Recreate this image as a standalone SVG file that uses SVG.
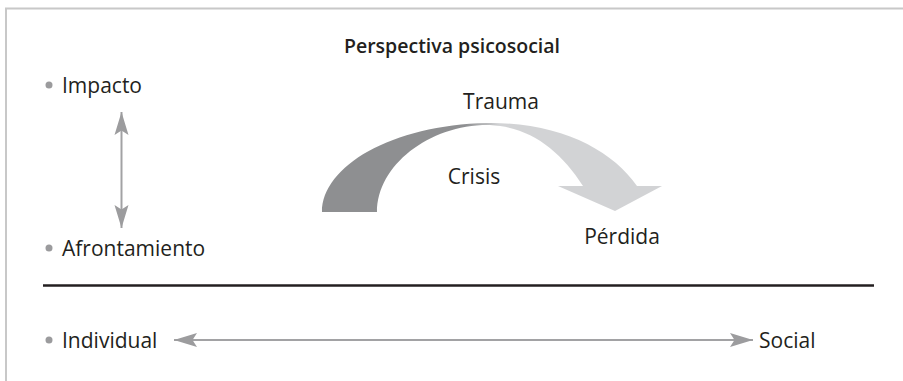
<svg xmlns="http://www.w3.org/2000/svg" width="903" height="381" viewBox="0 0 903 381">
<style>
.t{font-family:"Open Sans","Liberation Sans",sans-serif;font-size:21px;fill:#231f20}
.title{font-weight:600;font-size:19.5px}
.b{fill:#9b9b9d}
.ar{stroke:#a2a2a4;stroke-width:2;fill:none}
</style>
<defs>
<marker id="ah" viewBox="-24 -8 26 16" refX="0" refY="0" markerWidth="26" markerHeight="16" markerUnits="userSpaceOnUse" orient="auto-start-reverse">
<path d="M0,0 L-23,-7 L-18.5,0 L-23,7 Z" fill="#9c9c9e"/>
</marker>
<linearGradient id="g" gradientUnits="userSpaceOnUse" x1="465" y1="0" x2="500" y2="0">
<stop offset="0" stop-color="#8e8f91"/>
<stop offset="1" stop-color="#d2d3d5"/>
</linearGradient>
</defs>
<g id="frame">
<line x1="5" y1="8.5" x2="903" y2="8.5" stroke="#c8c8c8" stroke-width="2"/>
<line x1="6" y1="8" x2="6" y2="381" stroke="#c8c8c8" stroke-width="2"/>
<line x1="43" y1="285.5" x2="874" y2="285.5" stroke="#231f20" stroke-width="2.5"/>
</g>
<text id="title" class="t title" x="452" y="53" text-anchor="middle">Perspectiva psicosocial</text>
<g id="impacto"><circle class="b" cx="49" cy="85" r="3.5"/><text class="t" x="62" y="93">Impacto</text></g>
<g id="afrontamiento"><circle class="b" cx="49" cy="248" r="3.5"/><text class="t" x="62" y="256">Afrontamiento</text></g>
<g id="individual"><circle class="b" cx="49" cy="340" r="3.5"/><text class="t" x="62" y="348">Individual</text></g>
<g id="social"><text class="t" x="759" y="348">Social</text></g>
<g id="arc">
<path d="M322,212 C322,166 392,125 487,123 C560,122 612,150 637,186 L662,186 L615,211 L558,186 L583,186 C560,150 530,127 490,125 C430,124 377,165 377,212 Z" fill="url(#g)"/>
</g>
<g id="trauma"><text class="t" x="501" y="109" text-anchor="middle">Trauma</text></g>
<g id="crisis"><text class="t" x="474" y="184" text-anchor="middle">Crisis</text></g>
<g id="perdida"><text class="t" x="622" y="244" text-anchor="middle">Pérdida</text></g>
<g id="connectors">
<line class="ar" x1="121.5" y1="112" x2="121.5" y2="228" marker-start="url(#ah)" marker-end="url(#ah)"/>
<line class="ar" x1="174" y1="340" x2="753" y2="340" marker-start="url(#ah)" marker-end="url(#ah)"/>
</g>
</svg>
